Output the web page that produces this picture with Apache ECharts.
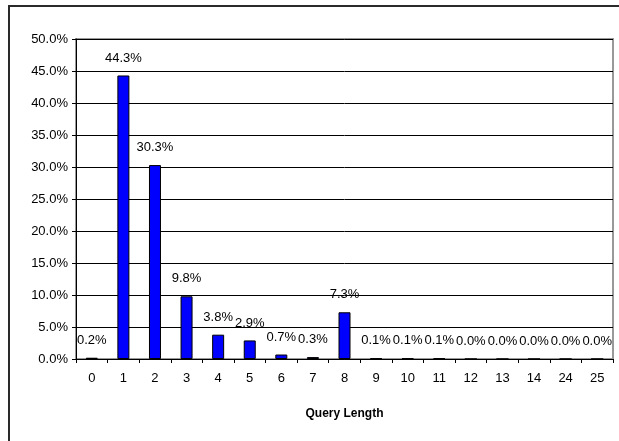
<!DOCTYPE html>
<html>
<head>
<meta charset="utf-8">
<script src="https://cdn.jsdelivr.net/npm/echarts@6/dist/echarts.min.js"></script>
<style>html,body{margin:0;padding:0;background:#fff;}#c{width:619px;height:441px;}</style>
</head>
<body>
<div id="c"></div>
<script>
const categories = ['0','1','2','3','4','5','6','7','8','9','10','11','12','13','14','24','25'];
const shares = [0.2, 44.3, 30.3, 9.8, 3.8, 2.9, 0.7, 0.3, 7.3, 0.1, 0.1, 0.1, 0.0, 0.0, 0.0, 0.0, 0.0];
const xTitle = 'Query Length';
const yMin = 0, yMax = 50, yStep = 5;

const chart = echarts.init(document.getElementById('c'), null, {renderer: 'canvas'});
const font = 'Liberation Sans, Arial, sans-serif';
chart.setOption({
  animation: false,
  backgroundColor: '#fff',
  graphic: [{
    type: 'rect', z: 100, silent: true,
    shape: {x: 9, y: 6, width: 640, height: 460},
    style: {fill: 'none', stroke: '#2a2a2a', lineWidth: 2}
  }],
  grid: {left: 76, right: 6, top: 39, bottom: 82, show: true, borderColor: '#999', borderWidth: 2, backgroundColor: 'transparent'},
  xAxis: {
    type: 'category', data: categories,
    name: xTitle, nameLocation: 'middle', nameGap: 49,
    nameTextStyle: {fontFamily: font, fontSize: 12, fontWeight: 'bold', color: '#000'},
    axisLine: {lineStyle: {color: '#000', width: 1}},
    axisTick: {show: true, interval: 0, length: 4, lineStyle: {color: '#000'}},
    axisLabel: {interval: 0, margin: 13, fontFamily: font, fontSize: 13, color: '#000'}
  },
  yAxis: {
    type: 'value', min: yMin, max: yMax, interval: yStep,
    axisLine: {show: true, lineStyle: {color: '#000', width: 1}},
    axisTick: {show: true, length: 4, lineStyle: {color: '#000'}},
    axisLabel: {margin: 8, fontFamily: font, fontSize: 13, color: '#000', formatter: v => v.toFixed(1) + '%'},
    splitLine: {show: true, lineStyle: {color: '#000', width: 1}}
  },
  series: [{
    type: 'bar', data: shares, barWidth: 12,
    itemStyle: {color: '#0000ff', borderColor: '#000', borderWidth: 1},
    label: {show: true, position: 'top', distance: 11, fontFamily: font, fontSize: 13, color: '#000',
      formatter: p => p.value.toFixed(1) + '%'}
  }]
});
</script>
</body>
</html>
